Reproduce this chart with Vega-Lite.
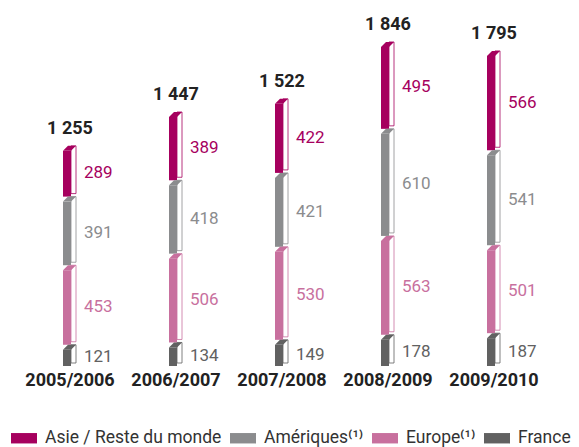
{
  "$schema": "https://vega.github.io/schema/vega-lite/v6.json",
  "width": 530,
  "height": 366,
  "autosize": {"type": "none"},
  "padding": {"left": 17, "top": 0, "right": 32, "bottom": 81},
  "background": "white",
  "config": {
    "view": {"stroke": null},
    "font": "Roboto",
    "locale": {"number": {"decimal": ",", "thousands": " ", "grouping": [3], "currency": ["", " €"]}}
  },
  "data": {
    "values": [
      {"year": "2005/2006", "region": "France", "rank": 1, "value": 121, "total": 1255},
      {"year": "2005/2006", "region": "Europe", "rank": 2, "value": 453, "total": 1255},
      {"year": "2005/2006", "region": "Amériques", "rank": 3, "value": 391, "total": 1255},
      {"year": "2005/2006", "region": "Asie / Reste du monde", "rank": 4, "value": 289, "total": 1255},
      {"year": "2006/2007", "region": "France", "rank": 1, "value": 134, "total": 1447},
      {"year": "2006/2007", "region": "Europe", "rank": 2, "value": 506, "total": 1447},
      {"year": "2006/2007", "region": "Amériques", "rank": 3, "value": 418, "total": 1447},
      {"year": "2006/2007", "region": "Asie / Reste du monde", "rank": 4, "value": 389, "total": 1447},
      {"year": "2007/2008", "region": "France", "rank": 1, "value": 149, "total": 1522},
      {"year": "2007/2008", "region": "Europe", "rank": 2, "value": 530, "total": 1522},
      {"year": "2007/2008", "region": "Amériques", "rank": 3, "value": 421, "total": 1522},
      {"year": "2007/2008", "region": "Asie / Reste du monde", "rank": 4, "value": 422, "total": 1522},
      {"year": "2008/2009", "region": "France", "rank": 1, "value": 178, "total": 1846},
      {"year": "2008/2009", "region": "Europe", "rank": 2, "value": 563, "total": 1846},
      {"year": "2008/2009", "region": "Amériques", "rank": 3, "value": 610, "total": 1846},
      {"year": "2008/2009", "region": "Asie / Reste du monde", "rank": 4, "value": 495, "total": 1846},
      {"year": "2009/2010", "region": "France", "rank": 1, "value": 187, "total": 1795},
      {"year": "2009/2010", "region": "Europe", "rank": 2, "value": 501, "total": 1795},
      {"year": "2009/2010", "region": "Amériques", "rank": 3, "value": 541, "total": 1795},
      {"year": "2009/2010", "region": "Asie / Reste du monde", "rank": 4, "value": 566, "total": 1795}
    ]
  },
  "transform": [
    {"stack": "value", "groupby": ["year"], "sort": [{"field": "rank", "order": "ascending"}], "as": ["y0", "y1"]}
  ],
  "encoding": {
    "x": {
      "field": "year",
      "type": "nominal",
      "scale": {"paddingInner": 0, "paddingOuter": 0},
      "axis": {
        "title": null,
        "domain": false,
        "ticks": false,
        "labelAngle": 0,
        "labelFont": "Roboto",
        "labelFontSize": 18,
        "labelFontWeight": "bold",
        "labelColor": "#222222",
        "labelPadding": 5
      }
    },
    "color": {
      "field": "region",
      "type": "nominal",
      "scale": {"domain": ["Asie / Reste du monde", "Amériques", "Europe", "France"], "range": ["#A6005E", "#8B8C8E", "#C8709E", "#616161"]},
      "legend": {
        "title": null,
        "orient": "none",
        "direction": "horizontal",
        "legendX": -6,
        "legendY": 425,
        "padding": 0,
        "symbolType": "M -1 -0.4 L 1 -0.4 L 1 0.4 L -1 0.4 Z",
        "symbolSize": 676,
        "symbolStrokeWidth": 0,
        "symbolOpacity": 1,
        "labelFont": "Roboto",
        "labelFontSize": 17.5,
        "labelColor": "#333333",
        "labelOffset": 8,
        "columnPadding": 8,
        "labelLimit": 300,
        "labelExpr": "datum.label == 'Amériques' || datum.label == 'Europe' ? datum.label + '⁽¹⁾' : datum.label"
      }
    }
  },
  "layer": [
    {
      "mark": {"type": "bar", "width": 5, "xOffset": 3.5, "strokeWidth": 0.8, "y2Offset": -3},
      "encoding": {
        "y": {"field": "y1", "type": "quantitative", "scale": {"domain": [0, 2085], "nice": false}, "axis": null},
        "y2": {"field": "y0"},
        "color": {"value": "white"},
        "stroke": {
          "field": "region",
          "type": "nominal",
          "scale": {"domain": ["Asie / Reste du monde", "Amériques", "Europe", "France"], "range": ["#A6005E", "#8B8C8E", "#C8709E", "#616161"]}
        }
      }
    },
    {
      "mark": {"type": "bar", "width": 8, "xOffset": -3, "yOffset": 5},
      "encoding": {
        "y": {"field": "y1", "type": "quantitative", "axis": null},
        "y2": {"field": "y0"}
      }
    },
    {
      "mark": {"type": "point", "shape": "M -7 5 L 1 5 L 6 0 L -2 0 Z", "size": 4, "filled": true, "opacity": 1, "strokeWidth": 0},
      "encoding": {
        "y": {"field": "y1", "type": "quantitative", "axis": null}
      }
    },
    {
      "transform": [
        {"fold": ["y0", "y1"], "as": ["k", "v"]},
        {"aggregate": [{"op": "mean", "field": "v", "as": "mid"}], "groupby": ["year", "region", "value"]}
      ],
      "mark": {"type": "text", "align": "left", "baseline": "middle", "dx": 14, "dy": 2, "fontSize": 17, "font": "Roboto"},
      "encoding": {
        "y": {"field": "mid", "type": "quantitative", "axis": null},
        "text": {"field": "value", "type": "quantitative"}
      }
    },
    {
      "transform": [
        {"aggregate": [{"op": "max", "field": "total", "as": "total"}], "groupby": ["year"]}
      ],
      "mark": {"type": "text", "align": "center", "baseline": "alphabetic", "dy": -12, "fontSize": 18, "fontWeight": "bold", "font": "Roboto"},
      "encoding": {
        "y": {"field": "total", "type": "quantitative", "axis": null},
        "text": {"field": "total", "type": "quantitative", "format": ",d"},
        "color": {"value": "#222222"}
      }
    }
  ]
}
